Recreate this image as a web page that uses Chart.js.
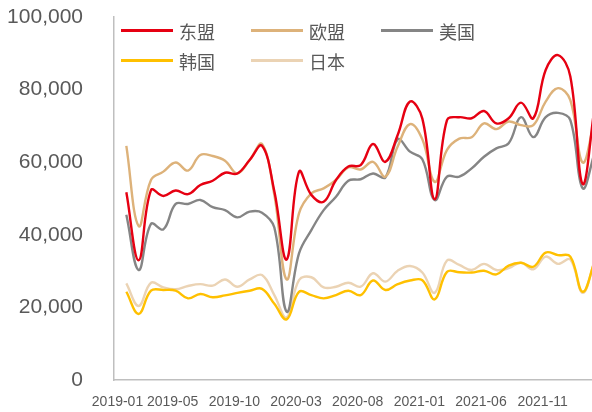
<!DOCTYPE html>
<html>
<head>
<meta charset="utf-8">
<script src="https://cdn.jsdelivr.net/npm/chart.js@4"></script>
<style>
  html, body { margin: 0; padding: 0; background: #fff; }
  body { width: 592px; height: 412px; overflow: hidden; position: relative; }
  #wrap { position: absolute; left: 0; top: 0; width: 600px; height: 412px; }
  #legend { position: absolute; left: 121px; top: 20px; display: grid;
    grid-template-columns: 130px 130px 130px; row-gap: 9px;
    font-family: "Noto Sans CJK SC", sans-serif; font-size: 18px; color: #595959; }
  .item { display: flex; align-items: center; height: 21px; }
  .swatch { width: 52px; height: 2.5px; margin-right: 6px; }
</style>
</head>
<body>
<div id="wrap"><canvas id="tradeChart" width="600" height="412"></canvas></div>
<div id="legend"></div>
<script>
// months shown on the chart (leading blank keeps the gap before 2019-01)
const months = ['', '2019-01', '2019-02', '2019-03', '2019-04', '2019-05', '2019-06', '2019-07', '2019-08', '2019-09', '2019-10', '2019-11', '2019-12',
  '2020-01', '2020-02', '2020-03', '2020-04', '2020-05', '2020-06', '2020-07', '2020-08', '2020-09', '2020-10', '2020-11', '2020-12',
  '2021-01', '2021-02', '2021-03', '2021-04', '2021-05', '2021-06', '2021-07', '2021-08', '2021-09', '2021-10', '2021-11', '2021-12',
  '2022-01', '2022-02', '2022-03'];
const shownLabels = ['2019-01', '2019-05', '2019-10', '2020-03', '2020-08', '2021-01', '2021-06', '2021-11'];
const yTicks = [0, 20000, 40000, 60000, 80000, 100000];

const asean = [51700, 33000, 52300, 50700, 52200, 51200, 53700, 54900, 57100, 56900, 60600, 64500,
  52000, 33200, 57400, 51000, 49100, 55100, 58800, 59200, 65000, 60100, 67500, 76700,
  72000, 49800, 71600, 72400, 72100, 74100, 70700, 72100, 76400, 72100, 85400, 89500,
  83600, 54000, 76000];
const eu = [64500, 42400, 55100, 57400, 59900, 57700, 62000, 61700, 60400, 56900, 60600, 65000,
  51000, 27700, 45900, 51400, 52800, 55100, 58600, 58000, 60100, 56000, 64300, 70500,
  66300, 54600, 63400, 66500, 66900, 70700, 69100, 71200, 70200, 70200, 76700, 80400,
  77100, 59900, 72000];
const usa = [45500, 30300, 43000, 41500, 48500, 48500, 49600, 47600, 46800, 44800, 46400, 46100,
  42000, 18800, 34900, 41300, 46800, 50500, 54900, 55300, 56900, 55800, 66300, 62900,
  60800, 49600, 56000, 56000, 58300, 61500, 63800, 65200, 72400, 66900, 72400, 73600,
  71600, 52800, 63000];
const korea = [24300, 18200, 24600, 24800, 24600, 22500, 23700, 22800, 23300, 24000, 24600, 25100,
  21000, 16700, 24300, 23400, 22500, 23400, 24600, 23400, 27400, 24800, 26400, 27400,
  27500, 22200, 29800, 29700, 29600, 30100, 29100, 31500, 32300, 31200, 35100, 34400,
  34000, 24300, 33000];
const japan = [26600, 20400, 26800, 25500, 25000, 25900, 26400, 26000, 27700, 25700, 27700, 28900,
  23400, 17200, 27500, 28300, 25500, 25700, 26800, 25700, 29400, 27100, 30100, 31400,
  29600, 24000, 32900, 31700, 30300, 32000, 30300, 30800, 32300, 30500, 34000, 32000,
  33200, 24000, 33000];

const names = ['东盟', '欧盟', '美国', '韩国', '日本'];
const colors = ['#E60012', '#DDB27A', '#858585', '#FFC000', '#EBD3B4'];
const series = [asean, eu, usa, korea, japan];

const datasets = series.map((vals, i) => ({
  label: names[i],
  data: [null, ...vals],
  borderColor: colors[i],
  backgroundColor: colors[i],
  borderWidth: 2.4,
  pointRadius: 0,
  tension: 0.4,
  fill: false
}));

// legend as html, 3 per row like the original
const legend = document.getElementById('legend');
names.forEach((n, i) => {
  const el = document.createElement('div');
  el.className = 'item';
  el.innerHTML = '<span class="swatch" style="background:' + colors[i] + '"></span><span>' + n + '</span>';
  legend.appendChild(el);
});

const noGrid = 'rgba(0,0,0,0)';
const ctx = document.getElementById('tradeChart').getContext('2d');
new Chart(ctx, {
  type: 'line',
  data: { labels: months, datasets: datasets },
  options: {
    responsive: false,
    animation: false,
    layout: { padding: { top: 17, right: 5, left: 0, bottom: 0 } },
    plugins: { legend: { display: false }, tooltip: { enabled: false } },
    scales: {
      x: {
        offset: false,
        grid: { color: noGrid, tickLength: 13.6 },
        border: { display: true, color: '#BFBFBF', width: 1.5 },
        ticks: {
          autoSkip: false,
          maxRotation: 0,
          padding: 0,
          labelOffset: -3,
          color: '#595959',
          font: { family: 'Liberation Sans, Arial, sans-serif', size: 14 },
          callback: function (v) {
            const l = this.getLabelForValue(v);
            if (!shownLabels.includes(l)) return '';
            // first label sits a little further left in the original
            return l === shownLabels[0] ? l + '   ' : l;
          }
        },
        afterFit: s => { s.height = 32; }
      },
      y: {
        min: yTicks[0],
        max: yTicks[yTicks.length - 1],
        afterBuildTicks: s => { s.ticks = yTicks.map(v => ({ value: v })); },
        grid: { color: noGrid, tickLength: 31 },
        border: { display: true, color: '#BFBFBF', width: 1.5 },
        ticks: {
          padding: 0,
          color: '#595959',
          font: { family: 'Liberation Sans, Arial, sans-serif', size: 21 },
          callback: v => v.toLocaleString('en-US')
        },
        afterFit: s => { s.width = 114; }
      }
    }
  }
});
</script>
</body>
</html>
